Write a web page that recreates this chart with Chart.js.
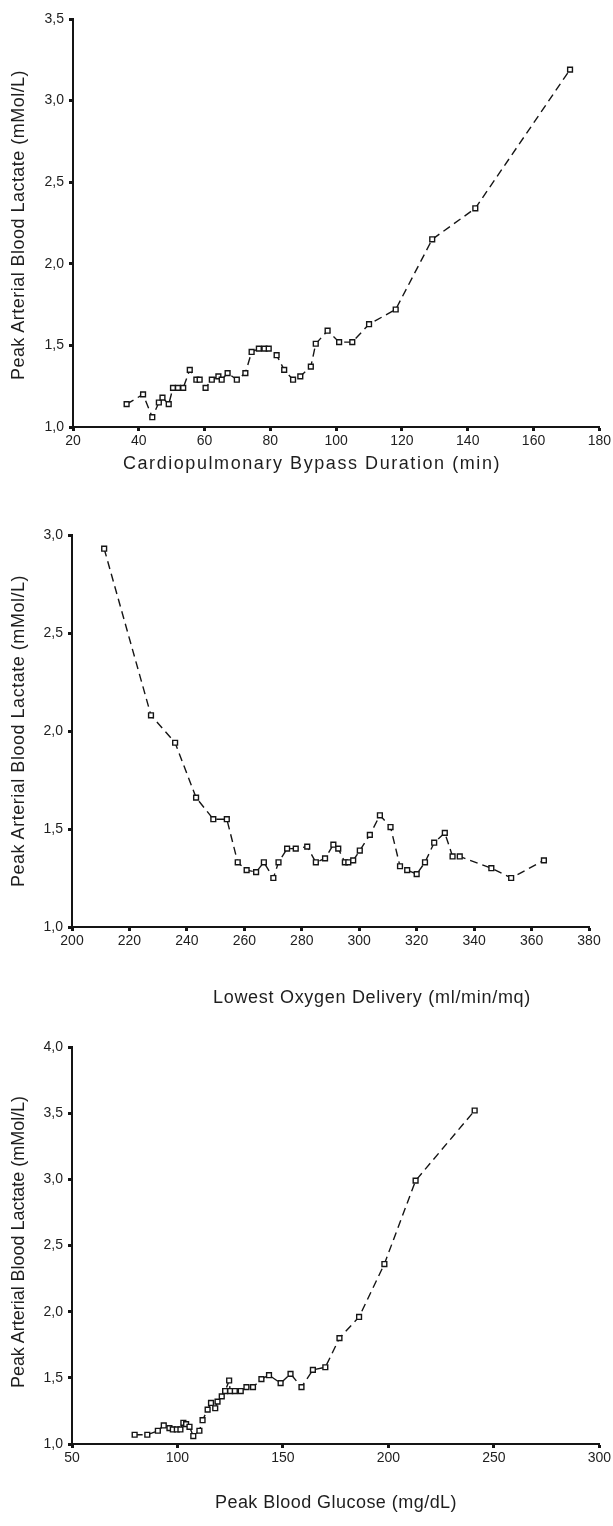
<!DOCTYPE html>
<html>
<head>
<meta charset="utf-8">
<script src="https://cdn.jsdelivr.net/npm/chart.js@4"></script>
<style>
  body { margin: 0; background: #fff; }
  #wrap { position: relative; width: 613px; height: 1526px; background: #fff; overflow: hidden; }
  #wrap canvas { position: absolute; left: 0; }
  .ttl { position: absolute; white-space: nowrap; font: 18px "Liberation Sans", Arial, sans-serif; color: #1e1e1e; }
</style>
</head>
<body>
<div id="wrap">
  <canvas id="c1" width="613" height="470" style="top:0"></canvas>
  <canvas id="c2" width="613" height="490" style="top:480px"></canvas>
  <canvas id="c3" width="613" height="556" style="top:970px"></canvas>
</div>
<script>
// Panel 1 - bypass duration
const cpbMin = [36.3, 41.3, 44.1, 46.1, 47.2, 49.1, 50.4, 51.9, 53.5, 55.5, 57.5, 58.5, 60.3, 62.2, 64.2, 65.2, 67.0, 69.8, 72.4, 74.3, 76.5, 78.2, 79.5, 81.9, 84.2, 86.9, 89.1, 92.3, 93.8, 97.4, 100.9, 104.9, 110.0, 118.1, 129.2, 142.3, 171.1];
const lactateCpb = [1.14, 1.20, 1.06, 1.15, 1.18, 1.14, 1.24, 1.24, 1.24, 1.35, 1.29, 1.29, 1.24, 1.29, 1.31, 1.29, 1.33, 1.29, 1.33, 1.46, 1.48, 1.48, 1.48, 1.44, 1.35, 1.29, 1.31, 1.37, 1.51, 1.59, 1.52, 1.52, 1.63, 1.72, 2.15, 2.34, 3.19];

// Panel 2 - lowest DO2
const do2 = [211.2, 227.5, 235.9, 243.2, 249.2, 253.9, 257.7, 260.8, 264.1, 266.8, 270.1, 271.9, 274.9, 277.9, 281.9, 284.9, 288.1, 291.0, 292.7, 295.0, 296.2, 297.9, 300.2, 303.7, 307.2, 310.9, 314.2, 316.7, 320.0, 322.9, 326.1, 329.8, 332.5, 335.0, 346.0, 352.9, 364.3];
const lactateDo2 = [2.93, 2.08, 1.94, 1.66, 1.55, 1.55, 1.33, 1.29, 1.28, 1.33, 1.25, 1.33, 1.40, 1.40, 1.41, 1.33, 1.35, 1.42, 1.40, 1.33, 1.33, 1.34, 1.39, 1.47, 1.57, 1.51, 1.31, 1.29, 1.27, 1.33, 1.43, 1.48, 1.36, 1.36, 1.30, 1.25, 1.34];

// Panel 3 - peak glucose
const glucose = [79.7, 85.7, 90.7, 93.5, 96.2, 97.8, 99.7, 101.4, 102.8, 104.1, 105.7, 107.5, 110.4, 111.9, 114.3, 115.9, 117.9, 119.0, 121.0, 122.6, 124.5, 125.0, 127.2, 130.0, 132.7, 135.8, 139.8, 143.4, 148.9, 153.6, 158.8, 164.2, 170.1, 176.8, 186.1, 198.1, 212.9, 240.9];
const lactateGlu = [1.07, 1.07, 1.10, 1.14, 1.12, 1.11, 1.11, 1.11, 1.16, 1.15, 1.13, 1.06, 1.10, 1.18, 1.26, 1.31, 1.27, 1.32, 1.36, 1.40, 1.48, 1.40, 1.40, 1.40, 1.43, 1.43, 1.49, 1.52, 1.46, 1.53, 1.43, 1.56, 1.58, 1.80, 1.96, 2.36, 2.99, 3.52];

const yTitle = 'Peak Arterial Blood Lactate (mMol/L)';
const xTitles = ['Cardiopulmonary Bypass Duration (min)', 'Lowest Oxygen Delivery (ml/min/mq)', 'Peak Blood Glucose (mg/dL)'];

const INK = '#151515';
const tickFont = { family: '"Liberation Sans", Arial, sans-serif', size: 14 };

function axis(min, max, step, fmt) {
  return {
    type: 'linear', min, max,
    border: { display: true, color: INK, width: 2 },
    grid: { drawOnChartArea: false, drawTicks: true, tickLength: 4, tickWidth: 3, color: INK },
    ticks: { stepSize: step, color: '#1e1e1e', font: tickFont, padding: 2, autoSkip: false, maxRotation: 0, callback: fmt }
  };
}

function makeChart(id, xs, ys, xr, yr, pad, xh) {
  const x = axis(xr[0], xr[1], xr[2], v => String(v));
  const y = axis(yr[0], yr[1], yr[2], v => v.toFixed(1).replace('.', ','));
  x.afterFit = s => { s.height = xh; };
  y.afterFit = s => { s.width = pad.left; };
  y.ticks.padding = 5;
  return new Chart(document.getElementById(id), {
    type: 'scatter',
    data: {
      datasets: [{
        data: xs.map((v, i) => ({ x: v, y: ys[i] })),
        showLine: true,
        borderColor: INK,
        borderWidth: 1.4,
        borderDash: [8, 5],
        pointStyle: 'rect',
        pointRadius: 3.4,
        pointBorderWidth: 1.4,
        pointBackgroundColor: '#fff',
        pointBorderColor: INK
      }]
    },
    options: {
      responsive: false,
      animation: false,
      layout: { padding: { left: 0, right: pad.right, top: pad.top, bottom: 0 } },
      plugins: { legend: { display: false }, tooltip: { enabled: false } },
      scales: { x, y }
    }
  });
}

makeChart('c1', cpbMin, lactateCpb, [20, 180, 20], [1, 3.5, 0.5], { left: 73, right: 12, top: 19 }, 43);
makeChart('c2', do2, lactateDo2, [200, 380, 20], [1, 3, 0.5], { left: 72, right: 24, top: 55 }, 43);
makeChart('c3', glucose, lactateGlu, [50, 300, 50], [1, 4, 0.5], { left: 72, right: 11, top: 77 }, 82);

// axis titles as html text, stretched to the widths in the picture
const wrap = document.getElementById('wrap');
function addTitle(text, cx, cy, width, vertical) {
  const el = document.createElement('div');
  el.className = 'ttl';
  el.textContent = text;
  el.style.left = cx + 'px';
  el.style.top = cy + 'px';
  el.style.transform = 'translate(-50%, -50%)' + (vertical ? ' rotate(-90deg)' : '');
  wrap.appendChild(el);
  const natural = el.offsetWidth;
  el.style.letterSpacing = ((width - natural) / text.length) + 'px';
  return el;
}

addTitle(xTitles[0], 312, 463, 378, false);
addTitle(xTitles[1], 372, 997, 318, false);
addTitle(xTitles[2], 336, 1502, 242, false);
addTitle(yTitle, 18, 225, 310, true);
addTitle(yTitle, 18, 731, 312, true);
addTitle(yTitle, 18, 1242, 292, true);
</script>
</body>
</html>
